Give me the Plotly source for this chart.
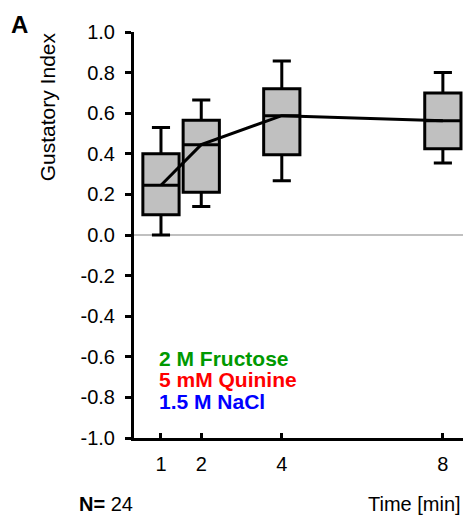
import plotly.graph_objects as go

# Data
times = [1, 2, 4, 8]
lower_whisker = [0.00, 0.14, 0.267, 0.355]
q1 = [0.10, 0.21, 0.395, 0.425]
median = [0.245, 0.445, 0.588, 0.563]
q3 = [0.40, 0.565, 0.72, 0.70]
upper_whisker = [0.53, 0.665, 0.857, 0.80]

x_ticks = [1, 2, 4, 8]
y_ticks = [-1.0, -0.8, -0.6, -0.4, -0.2, 0.0, 0.2, 0.4, 0.6, 0.8, 1.0]
y_ticktext = ["%.1f" % v for v in y_ticks]

stimuli = ["2 M Fructose", "5 mM Quinine", "1.5 M NaCl"]
stimulus_colors = ["#009900", "#ff0000", "#0000ff"]

FONT = "Liberation Sans, Arial, sans-serif"

fig = go.Figure()
fig.add_trace(go.Box(
    x=times, q1=q1, median=median, q3=q3,
    lowerfence=lower_whisker, upperfence=upper_whisker,
    width=0.9, whiskerwidth=0.5,
    fillcolor="#c0c0c0", line=dict(color="black", width=3),
    boxpoints=False, showlegend=False, hoverinfo="skip",
))
fig.add_trace(go.Scatter(
    x=times, y=median, mode="lines",
    line=dict(color="black", width=3), showlegend=False, hoverinfo="skip",
))

annotations = [
    dict(text="Gustatory Index", textangle=-90, x=-0.264, y=0.815,
         xref="paper", yref="paper", xanchor="center", yanchor="middle",
         showarrow=False, font=dict(size=21, color="black", family=FONT)),
    dict(text="<b>A</b>", x=-0.380, y=1.019, xref="paper", yref="paper",
         xanchor="left", yanchor="middle", showarrow=False,
         font=dict(size=24, color="black", family=FONT)),
    dict(text="Time [min]", x=1.0, y=-0.163, xref="paper", yref="paper",
         xanchor="right", yanchor="middle", showarrow=False,
         font=dict(size=20, color="black", family=FONT)),
    dict(text="<b>N=</b> 24", x=-0.172, y=-0.163, xref="paper", yref="paper",
         xanchor="left", yanchor="middle", showarrow=False,
         font=dict(size=20, color="black", family=FONT)),
]
for i, (s, c) in enumerate(zip(stimuli, stimulus_colors)):
    annotations.append(dict(
        text="<b>%s</b>" % s, x=0.071, y=[0.197, 0.143, 0.091][i],
        xref="paper", yref="paper", xanchor="left", yanchor="middle",
        showarrow=False, font=dict(size=21, color=c, family=FONT)))

fig.update_layout(
    width=466, height=518,
    margin=dict(l=134, r=3, t=32, b=80),
    paper_bgcolor="white", plot_bgcolor="white",
    font=dict(family=FONT, color="black", size=20),
    annotations=annotations,
    xaxis=dict(range=[0.33, 8.5], tickvals=x_ticks, ticktext=[str(v) for v in x_ticks],
               showline=True, linecolor="black", linewidth=3,
               ticks="inside", ticklen=5, tickwidth=3, tickcolor="black",
               showgrid=False, zeroline=False, ticklabelstandoff=6,
               tickfont=dict(size=20)),
    yaxis=dict(range=[-1.0, 1.0], tickvals=y_ticks, ticktext=y_ticktext,
               showline=True, linecolor="black", linewidth=3,
               ticks="outside", ticklen=6, tickwidth=3, tickcolor="black",
               showgrid=False, zeroline=True, zerolinecolor="#c0c0c0", zerolinewidth=2,
               ticklabelstandoff=6, tickfont=dict(size=20)),
)
fig.write_html("out.html")
